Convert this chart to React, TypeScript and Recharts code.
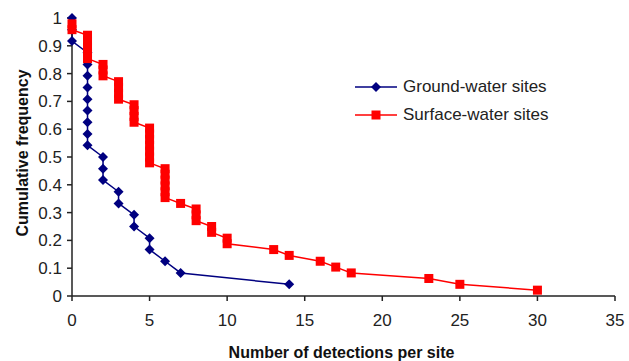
import React from "react";
import { LineChart, Line, XAxis, YAxis } from "recharts";

// ground-water sites (24 sites), detections per site vs cumulative frequency
const groundX = [0, 0, 0, 1, 1, 1, 1, 1, 1, 1, 1, 1, 2, 2, 2, 3, 3, 4, 4, 5, 5, 6, 7, 14];
const groundY = [
  1, 0.958, 0.917, 0.875, 0.833, 0.792, 0.75, 0.708, 0.667, 0.625, 0.583, 0.542,
  0.5, 0.458, 0.417, 0.375, 0.333, 0.292, 0.25, 0.208, 0.167, 0.125, 0.083, 0.042,
];

// surface-water sites
const surfaceX = [
  0, 0, 1, 1, 1, 1, 1, 2, 2, 2, 3, 3, 3, 3, 4, 4, 4, 4, 5, 5, 5, 5, 5, 5, 5,
  6, 6, 6, 6, 6, 6, 7, 8, 8, 8, 9, 9, 10, 10, 13, 14, 16, 17, 18, 23, 25, 30,
];
const surfaceY = [
  0.979, 0.958, 0.938, 0.917, 0.896, 0.875, 0.854, 0.833, 0.813, 0.792, 0.771, 0.75,
  0.729, 0.708, 0.688, 0.667, 0.646, 0.625, 0.604, 0.583, 0.563, 0.542, 0.521, 0.5,
  0.479, 0.458, 0.438, 0.417, 0.396, 0.375, 0.354, 0.333, 0.313, 0.292, 0.271, 0.25,
  0.229, 0.208, 0.188, 0.167, 0.146, 0.125, 0.104, 0.083, 0.063, 0.042, 0.021,
];

const xTicks = [0, 5, 10, 15, 20, 25, 30, 35];
const yTicks = [0, 0.1, 0.2, 0.3, 0.4, 0.5, 0.6, 0.7, 0.8, 0.9, 1];

const groundData = groundX.map((x, i) => ({ x, y: groundY[i] }));
const surfaceData = surfaceX.map((x, i) => ({ x, y: surfaceY[i] }));

const NAVY = "#000080";
const RED = "#ff0000";
const FONT = "'Liberation Sans', Arial, sans-serif";

const Diamond = (props: any) => {
  const { cx, cy } = props;
  if (cx == null || cy == null) return null;
  const r = 5;
  return <path d={`M${cx},${cy - r}L${cx + r},${cy}L${cx},${cy + r}L${cx - r},${cy}Z`} fill={NAVY} stroke="none" />;
};

const Square = (props: any) => {
  const { cx, cy } = props;
  if (cx == null || cy == null) return null;
  const s = 4.5;
  return <rect x={cx - s} y={cy - s} width={s * 2} height={s * 2} fill={RED} stroke="none" />;
};

const LegendRow = ({ color, label, square }: { color: string; label: string; square?: boolean }) => (
  <div style={{ display: "flex", alignItems: "center", height: 28 }}>
    <svg width={44} height={12}>
      <line x1={0} y1={6} x2={42} y2={6} stroke={color} strokeWidth={1.5} />
      {square ? (
        <rect x={16.5} y={1.5} width={9} height={9} fill={color} />
      ) : (
        <path d="M21,1L26,6L21,11L16,6Z" fill={color} />
      )}
    </svg>
    <span style={{ marginLeft: 4, fontSize: 17, color: "#222" }}>{label}</span>
  </div>
);

const YTitle = (props: any) => {
  const { viewBox } = props;
  const cx = 22;
  const cy = viewBox.y + viewBox.height / 2 - 4;
  return (
    <text x={cx} y={cy} transform={`rotate(-90, ${cx}, ${cy})`} textAnchor="middle" dominantBaseline="central"
      fontSize={16} fontWeight="bold" fill="#111" fontFamily={FONT}>
      Cumulative frequency
    </text>
  );
};

const XTitle = (props: any) => {
  const { viewBox } = props;
  const cx = viewBox.x + viewBox.width / 2 - 2;
  return (
    <text x={cx} y={viewBox.y + 56} textAnchor="middle" dominantBaseline="central"
      fontSize={16} fontWeight="bold" fill="#111" fontFamily={FONT}>
      Number of detections per site
    </text>
  );
};

export default function App() {
  return (
    <div style={{ position: "absolute", left: 0, top: 0, width: 629, height: 361, background: "#fff", fontFamily: FONT }}>
      <LineChart width={629} height={361} margin={{ top: 18, right: 14, left: 0, bottom: 0 }}>
        <XAxis
          type="number"
          dataKey="x"
          domain={[0, 35]}
          ticks={xTicks}
          allowDuplicatedCategory={false}
          height={65}
          stroke="#222"
          strokeWidth={1.5}
          tickSize={5}
          tickMargin={13}
          tick={{ fontSize: 17, fill: "#222", fontFamily: FONT }}
          label={<XTitle />}
        />
        <YAxis
          type="number"
          dataKey="y"
          domain={[0, 1]}
          ticks={yTicks}
          width={72}
          stroke="#222"
          strokeWidth={1.5}
          tickSize={5}
          tickMargin={5}
          tick={{ fontSize: 17, fill: "#222", fontFamily: FONT }}
          tickFormatter={(v: number) => String(Math.round(v * 10) / 10)}
          label={<YTitle />}
        />
        <Line
          data={groundData}
          dataKey="y"
          type="linear"
          stroke={NAVY}
          strokeWidth={1.5}
          dot={<Diamond />}
          activeDot={false}
          isAnimationActive={false}
        />
        <Line
          data={surfaceData}
          dataKey="y"
          type="linear"
          stroke={RED}
          strokeWidth={1.5}
          dot={<Square />}
          activeDot={false}
          isAnimationActive={false}
        />
      </LineChart>
      <div style={{ position: "absolute", left: 355, top: 73 }}>
        <LegendRow color={NAVY} label="Ground-water sites" />
        <LegendRow color={RED} label="Surface-water sites" square />
      </div>
    </div>
  );
}
